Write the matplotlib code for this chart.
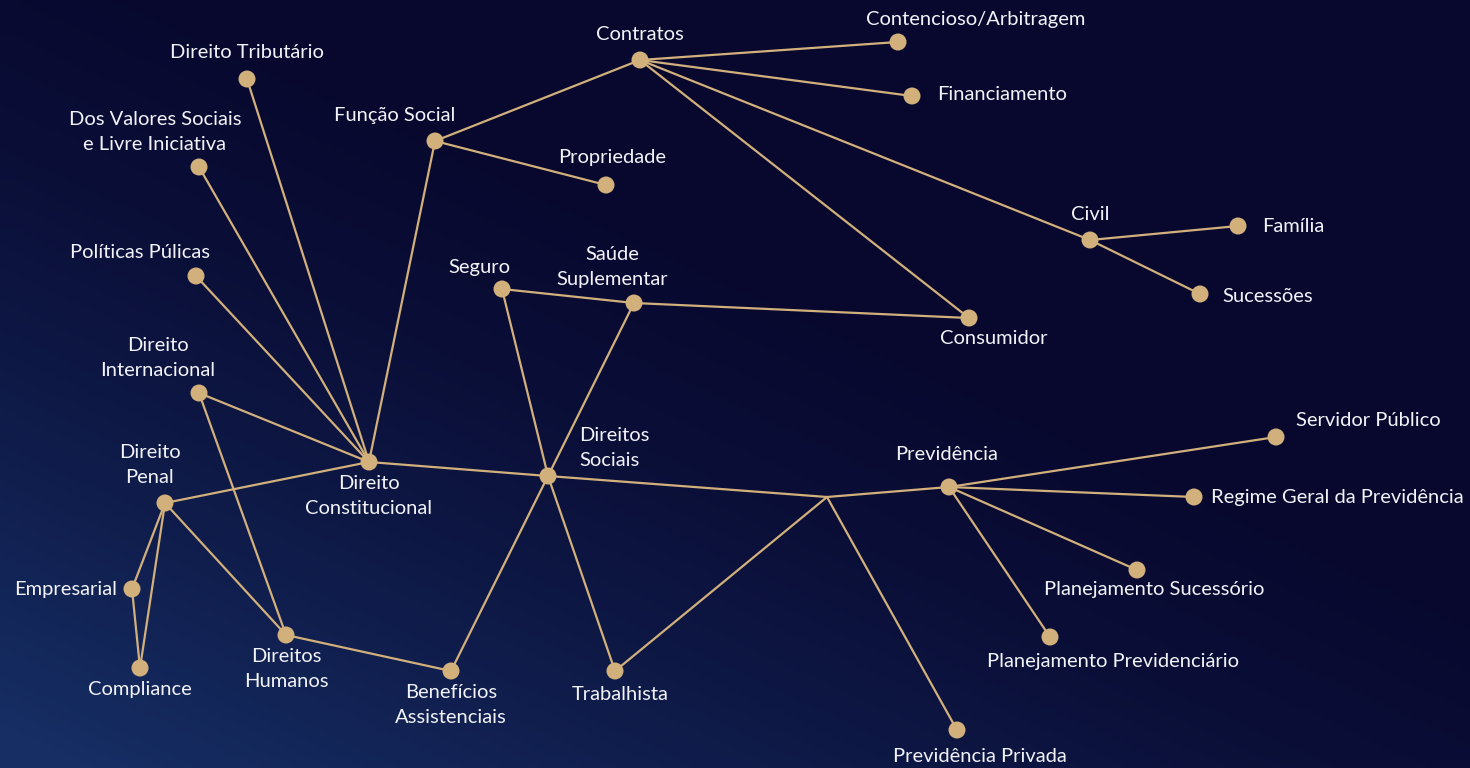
import numpy as np
import matplotlib.pyplot as plt

# nós: nome, posição (px), posição do rótulo, alinhamento
nomes = ["Direito Tributário", "Dos Valores Sociais\ne Livre Iniciativa", "Políticas Púlicas",
         "Direito\nInternacional", "Direito\nPenal", "Empresarial", "Compliance",
         "Direitos\nHumanos", "Direito\nConstitucional", "Função Social", "Propriedade",
         "Contratos", "Contencioso/Arbitragem", "Financiamento", "Civil", "Família",
         "Sucessões", "Consumidor", "Seguro", "Saúde\nSuplementar", "Direitos\nSociais",
         "Benefícios\nAssistenciais", "Trabalhista", "Previdência", "Servidor Público",
         "Regime Geral da Previdência", "Planejamento Sucessório",
         "Planejamento Previdenciário", "Previdência Privada"]
node_x = [247, 199, 196, 199, 165, 132, 140, 286, 369, 435, 606, 640, 898, 912, 1090, 1238,
          1200, 969, 502, 634, 548, 451, 615, 949, 1276, 1194, 1137, 1050, 957]
node_y = [79, 167, 276, 393, 503, 589, 668, 635, 462, 141, 185, 60, 42, 96, 240, 226,
          294, 318, 289, 303, 476, 671, 671, 487, 437, 497, 570, 637, 730]
label_x = [247, 155, 140, 158, 150, 117, 140, 286, 369, 395, 612, 640, 976, 937, 1090, 1262,
           1222, 994, 479, 612, 579, 451, 620, 947, 1368, 1211, 1154, 1113, 980]
label_y = [53, 132, 253, 358, 465, 589, 690, 669, 496, 115, 157, 35, 19, 95, 215, 227,
           296, 339, 267, 267, 448, 705, 695, 455, 420, 497, 589, 661, 756]
label_ha = ["center", "center", "center", "center", "center", "right", "center", "center",
            "center", "center", "center", "center", "center", "left", "center", "left",
            "left", "center", "center", "center", "left", "center", "center", "center",
            "center", "left", "center", "center", "center"]

# ponto de junção sem marcador
juncao = (827, 497)

arestas = [
    ("Direito Tributário", "Direito\nConstitucional"),
    ("Dos Valores Sociais\ne Livre Iniciativa", "Direito\nConstitucional"),
    ("Políticas Púlicas", "Direito\nConstitucional"),
    ("Direito\nInternacional", "Direito\nConstitucional"),
    ("Direito\nPenal", "Direito\nConstitucional"),
    ("Função Social", "Direito\nConstitucional"),
    ("Direito\nConstitucional", "Direitos\nSociais"),
    ("Direito\nInternacional", "Direitos\nHumanos"),
    ("Direito\nPenal", "Direitos\nHumanos"),
    ("Direito\nPenal", "Empresarial"),
    ("Direito\nPenal", "Compliance"),
    ("Empresarial", "Compliance"),
    ("Direitos\nHumanos", "Benefícios\nAssistenciais"),
    ("Benefícios\nAssistenciais", "Direitos\nSociais"),
    ("Direitos\nSociais", "Seguro"),
    ("Direitos\nSociais", "Saúde\nSuplementar"),
    ("Direitos\nSociais", "Trabalhista"),
    ("Direitos\nSociais", "J"),
    ("Trabalhista", "J"),
    ("J", "Previdência"),
    ("J", "Previdência Privada"),
    ("Seguro", "Saúde\nSuplementar"),
    ("Saúde\nSuplementar", "Consumidor"),
    ("Função Social", "Contratos"),
    ("Função Social", "Propriedade"),
    ("Contratos", "Contencioso/Arbitragem"),
    ("Contratos", "Financiamento"),
    ("Contratos", "Consumidor"),
    ("Contratos", "Civil"),
    ("Civil", "Família"),
    ("Civil", "Sucessões"),
    ("Previdência", "Servidor Público"),
    ("Previdência", "Regime Geral da Previdência"),
    ("Previdência", "Planejamento Sucessório"),
    ("Previdência", "Planejamento Previdenciário"),
]

ouro = "#d2b07c"

fig = plt.figure(figsize=(14.7, 7.68), dpi=100)
ax = fig.add_axes([0, 0, 1, 1])
ax.set_xlim(0, 1470)
ax.set_ylim(768, 0)
ax.axis("off")

# fundo em degradê (azul escuro no topo, mais claro no canto inferior esquerdo)
gx, gy = np.meshgrid(np.linspace(0, 1, 300), np.linspace(0, 1, 160))
t = np.clip(gy * 0.9 - gx * 0.8 + 0.15, 0, 1) ** 1.5
escuro = np.array([8, 8, 46]) / 255
claro = np.array([22, 46, 100]) / 255
img = escuro + t[..., None] * (claro - escuro)
ax.imshow(img, extent=[0, 1470, 768, 0], aspect="auto", zorder=0)

pos = {n: (x, y) for n, x, y in zip(nomes, node_x, node_y)}
pos["J"] = juncao

for a, b in arestas:
    (x1, y1), (x2, y2) = pos[a], pos[b]
    ax.plot([x1, x2], [y1, y2], color=ouro, lw=1.6, zorder=2, solid_capstyle="round")

ax.scatter(node_x, node_y, s=150, color=ouro, edgecolor="none", zorder=3)

for n, lx, ly, ha in zip(nomes, label_x, label_y, label_ha):
    ax.text(lx, ly, n, ha=ha, va="center", color="#f2f3f8", fontsize=14.5,
            family="Lato", linespacing=1.6, zorder=4)

fig.savefig("out.png", dpi=100)
